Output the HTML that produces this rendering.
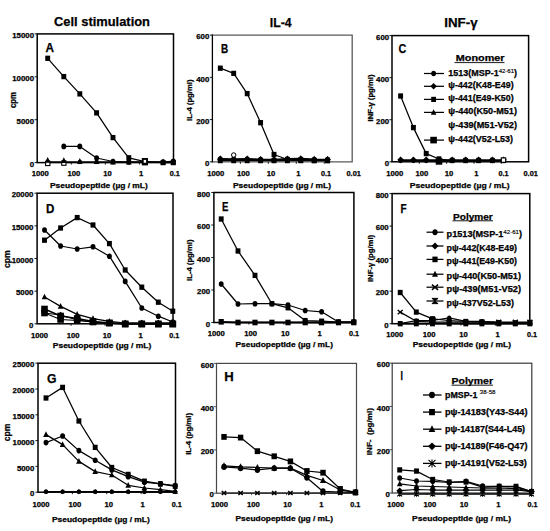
<!DOCTYPE html>
<html><head><meta charset="utf-8"><style>
html,body{margin:0;padding:0;background:#fff;}
body{width:550px;height:531px;overflow:hidden;font-family:"Liberation Sans", sans-serif;}
svg{display:block;}
text{fill:#000;stroke:#000;stroke-width:0.25px;}
</style></head><body>
<svg width="550" height="531" viewBox="0 0 550 531" font-family='"Liberation Sans", sans-serif'>
<rect width="550" height="531" fill="#fff"/>
<text x="54.00" y="26.20" font-size="12.80" font-weight="bold" textLength="96.00" lengthAdjust="spacingAndGlyphs">Cell stimulation</text>
<text x="269.80" y="26.80" font-size="12.80" font-weight="bold" textLength="21.80" lengthAdjust="spacingAndGlyphs">IL-4</text>
<text x="444.20" y="26.80" font-size="12.80" font-weight="bold" textLength="33.40" lengthAdjust="spacingAndGlyphs">INF-γ</text>
<rect x="37.20" y="33.90" width="136.30" height="128.70" fill="none" stroke="#000" stroke-width="1.5"/>
<line x1="34.60" y1="33.90" x2="37.20" y2="33.90" stroke="#000" stroke-width="0.9"/>
<text x="12.25" y="38.10" font-size="7.20" font-weight="bold" textLength="21.75" lengthAdjust="spacingAndGlyphs">15000</text>
<line x1="34.60" y1="76.80" x2="37.20" y2="76.80" stroke="#000" stroke-width="0.9"/>
<text x="12.25" y="81.00" font-size="7.20" font-weight="bold" textLength="21.75" lengthAdjust="spacingAndGlyphs">10000</text>
<line x1="34.60" y1="119.70" x2="37.20" y2="119.70" stroke="#000" stroke-width="0.9"/>
<text x="16.60" y="123.90" font-size="7.20" font-weight="bold" textLength="17.40" lengthAdjust="spacingAndGlyphs">5000</text>
<line x1="34.60" y1="162.60" x2="37.20" y2="162.60" stroke="#000" stroke-width="0.9"/>
<text x="29.65" y="166.80" font-size="7.20" font-weight="bold" textLength="4.35" lengthAdjust="spacingAndGlyphs">0</text>
<line x1="71.28" y1="162.60" x2="71.28" y2="164.60" stroke="#000" stroke-width="0.9"/>
<line x1="105.35" y1="162.60" x2="105.35" y2="164.60" stroke="#000" stroke-width="0.9"/>
<line x1="139.43" y1="162.60" x2="139.43" y2="164.60" stroke="#000" stroke-width="0.9"/>
<text x="31.80" y="176.40" font-size="7.20" font-weight="bold" textLength="17.00" lengthAdjust="spacingAndGlyphs">1000</text>
<text x="67.53" y="176.40" font-size="7.20" font-weight="bold" textLength="12.75" lengthAdjust="spacingAndGlyphs">100</text>
<text x="103.25" y="176.40" font-size="7.20" font-weight="bold" textLength="8.50" lengthAdjust="spacingAndGlyphs">10</text>
<text x="138.98" y="176.40" font-size="7.20" font-weight="bold" textLength="4.25" lengthAdjust="spacingAndGlyphs">1</text>
<text x="169.65" y="176.40" font-size="7.20" font-weight="bold" textLength="10.10" lengthAdjust="spacingAndGlyphs">0.1</text>
<text x="50.00" y="187.60" font-size="7.60" font-weight="bold" textLength="97.80" lengthAdjust="spacingAndGlyphs">Pseudopeptide (µg / mL)</text>
<text x="45.50" y="52.20" font-size="12.80" font-weight="bold" textLength="8.50" lengthAdjust="spacingAndGlyphs">A</text>
<text transform="translate(16.40,100.00) rotate(-90)" x="-8.00" y="0" font-size="8.20" font-weight="bold" textLength="16.00" lengthAdjust="spacingAndGlyphs">cpm</text>
<polyline points="47.70,162.10 63.80,162.10 79.80,162.10 96.60,162.10 113.00,162.10 128.80,162.10 144.90,162.10 163.10,162.10 173.30,162.10" fill="none" stroke="#000" stroke-width="1.9" stroke-linejoin="round"/>
<rect x="45.90" y="160.16" width="3.60" height="3.89" fill="#000"/>
<rect x="62.00" y="160.16" width="3.60" height="3.89" fill="#000"/>
<rect x="78.00" y="160.16" width="3.60" height="3.89" fill="#000"/>
<rect x="94.80" y="160.16" width="3.60" height="3.89" fill="#000"/>
<rect x="111.20" y="160.16" width="3.60" height="3.89" fill="#000"/>
<rect x="127.00" y="160.16" width="3.60" height="3.89" fill="#000"/>
<rect x="143.10" y="160.16" width="3.60" height="3.89" fill="#000"/>
<rect x="161.30" y="160.16" width="3.60" height="3.89" fill="#000"/>
<rect x="171.50" y="160.16" width="3.60" height="3.89" fill="#000"/>
<rect x="45.6" y="161.3" width="4.3" height="4.3" fill="#fff" stroke="#000" stroke-width="1.1"/>
<rect x="61.7" y="161.0" width="4.3" height="4.3" fill="#fff" stroke="#000" stroke-width="1.1"/>
<path d="M47.70,157.03 L50.58,162.78 L44.83,162.78 Z" fill="#000"/>
<path d="M63.80,157.32 L66.67,163.07 L60.92,163.07 Z" fill="#000"/>
<path d="M79.80,157.93 L82.67,163.68 L76.92,163.68 Z" fill="#000"/>
<path d="M96.60,158.22 L99.47,163.97 L93.72,163.97 Z" fill="#000"/>
<path d="M113.00,158.62 L115.88,164.38 L110.12,164.38 Z" fill="#000"/>
<path d="M128.80,158.62 L131.68,164.38 L125.93,164.38 Z" fill="#000"/>
<path d="M144.90,158.62 L147.78,164.38 L142.03,164.38 Z" fill="#000"/>
<path d="M163.10,158.62 L165.97,164.38 L160.22,164.38 Z" fill="#000"/>
<path d="M173.30,158.62 L176.18,164.38 L170.43,164.38 Z" fill="#000"/>
<polyline points="63.80,146.40 79.80,146.40 96.60,158.00 113.00,161.50 128.80,162.00 144.90,162.00 163.10,162.00 173.30,161.20" fill="none" stroke="#000" stroke-width="1.25" stroke-linejoin="round"/>
<ellipse cx="63.80" cy="146.40" rx="2.45" ry="2.82" fill="#000"/>
<ellipse cx="79.80" cy="146.40" rx="2.45" ry="2.82" fill="#000"/>
<ellipse cx="96.60" cy="158.00" rx="2.45" ry="2.82" fill="#000"/>
<ellipse cx="113.00" cy="161.50" rx="2.45" ry="2.82" fill="#000"/>
<ellipse cx="128.80" cy="162.00" rx="2.45" ry="2.82" fill="#000"/>
<ellipse cx="144.90" cy="162.00" rx="2.45" ry="2.82" fill="#000"/>
<ellipse cx="163.10" cy="162.00" rx="2.45" ry="2.82" fill="#000"/>
<ellipse cx="173.30" cy="161.20" rx="2.45" ry="2.82" fill="#000"/>
<polyline points="47.70,58.30 63.80,76.60 79.80,93.90 96.60,112.90 113.00,137.60 128.80,157.80 144.90,161.70 163.10,162.60 173.30,162.60" fill="none" stroke="#000" stroke-width="1.25" stroke-linejoin="round"/>
<rect x="45.25" y="55.65" width="4.90" height="5.29" fill="#000"/>
<rect x="61.35" y="73.95" width="4.90" height="5.29" fill="#000"/>
<rect x="77.35" y="91.25" width="4.90" height="5.29" fill="#000"/>
<rect x="94.15" y="110.25" width="4.90" height="5.29" fill="#000"/>
<rect x="110.55" y="134.95" width="4.90" height="5.29" fill="#000"/>
<rect x="126.35" y="155.15" width="4.90" height="5.29" fill="#000"/>
<rect x="142.45" y="159.05" width="4.90" height="5.29" fill="#000"/>
<rect x="160.65" y="159.95" width="4.90" height="5.29" fill="#000"/>
<rect x="170.85" y="159.95" width="4.90" height="5.29" fill="#000"/>
<rect x="141.8" y="158.0" width="6.2" height="7.4" fill="#000"/><rect x="143.7" y="159.9" width="2.4" height="2.9" fill="#fff"/>
<path d="M212.40,35.10 H352.20 V161.80 H212.40" fill="none" stroke="#5a5a5a" stroke-width="1.3"/>
<line x1="212.40" y1="34.45" x2="212.40" y2="162.45" stroke="#000" stroke-width="1.3"/>
<line x1="209.80" y1="35.10" x2="212.40" y2="35.10" stroke="#000" stroke-width="0.9"/>
<text x="196.25" y="39.30" font-size="7.20" font-weight="bold" textLength="13.05" lengthAdjust="spacingAndGlyphs">600</text>
<line x1="209.80" y1="77.33" x2="212.40" y2="77.33" stroke="#000" stroke-width="0.9"/>
<text x="196.25" y="81.53" font-size="7.20" font-weight="bold" textLength="13.05" lengthAdjust="spacingAndGlyphs">400</text>
<line x1="209.80" y1="119.57" x2="212.40" y2="119.57" stroke="#000" stroke-width="0.9"/>
<text x="196.25" y="123.77" font-size="7.20" font-weight="bold" textLength="13.05" lengthAdjust="spacingAndGlyphs">200</text>
<line x1="209.80" y1="161.80" x2="212.40" y2="161.80" stroke="#000" stroke-width="0.9"/>
<text x="204.95" y="166.00" font-size="7.20" font-weight="bold" textLength="4.35" lengthAdjust="spacingAndGlyphs">0</text>
<line x1="240.36" y1="161.80" x2="240.36" y2="163.80" stroke="#000" stroke-width="0.9"/>
<line x1="268.32" y1="161.80" x2="268.32" y2="163.80" stroke="#000" stroke-width="0.9"/>
<line x1="296.28" y1="161.80" x2="296.28" y2="163.80" stroke="#000" stroke-width="0.9"/>
<line x1="324.24" y1="161.80" x2="324.24" y2="163.80" stroke="#000" stroke-width="0.9"/>
<text x="207.20" y="176.30" font-size="7.20" font-weight="bold" textLength="17.00" lengthAdjust="spacingAndGlyphs">1000</text>
<text x="236.92" y="176.30" font-size="7.20" font-weight="bold" textLength="12.75" lengthAdjust="spacingAndGlyphs">100</text>
<text x="266.65" y="176.30" font-size="7.20" font-weight="bold" textLength="8.50" lengthAdjust="spacingAndGlyphs">10</text>
<text x="296.38" y="176.30" font-size="7.20" font-weight="bold" textLength="4.25" lengthAdjust="spacingAndGlyphs">1</text>
<text x="321.05" y="176.30" font-size="7.20" font-weight="bold" textLength="10.10" lengthAdjust="spacingAndGlyphs">0.1</text>
<text x="346.52" y="176.30" font-size="7.20" font-weight="bold" textLength="14.35" lengthAdjust="spacingAndGlyphs">0.01</text>
<text x="233.00" y="187.60" font-size="7.60" font-weight="bold" textLength="98.00" lengthAdjust="spacingAndGlyphs">Pseudopeptide (µg / mL)</text>
<text x="221.00" y="53.40" font-size="12.80" font-weight="bold" textLength="7.20" lengthAdjust="spacingAndGlyphs">B</text>
<text transform="translate(191.80,100.25) rotate(-90)" x="-20.75" y="0" font-size="6.90" font-weight="bold" textLength="41.50" lengthAdjust="spacingAndGlyphs">IL-4 (pg/ml)</text>
<polyline points="220.30,160.60 233.70,160.60 247.20,160.60 260.60,160.60 274.00,160.60 287.40,160.60 300.80,160.60 314.20,160.60 327.60,160.60" fill="none" stroke="#000" stroke-width="1.2" stroke-linejoin="round"/>
<rect x="217.85" y="157.95" width="4.90" height="5.29" fill="#000"/>
<rect x="231.25" y="157.95" width="4.90" height="5.29" fill="#000"/>
<rect x="244.75" y="157.95" width="4.90" height="5.29" fill="#000"/>
<rect x="258.15" y="157.95" width="4.90" height="5.29" fill="#000"/>
<rect x="271.55" y="157.95" width="4.90" height="5.29" fill="#000"/>
<rect x="284.95" y="157.95" width="4.90" height="5.29" fill="#000"/>
<rect x="298.35" y="157.95" width="4.90" height="5.29" fill="#000"/>
<rect x="311.75" y="157.95" width="4.90" height="5.29" fill="#000"/>
<rect x="325.15" y="157.95" width="4.90" height="5.29" fill="#000"/>
<polyline points="220.30,158.60 233.70,159.00 247.20,158.60 260.60,159.20 274.00,159.40 287.40,158.60 300.80,158.40 314.20,159.00 327.60,159.20" fill="none" stroke="#000" stroke-width="1.1" stroke-linejoin="round"/>
<path d="M220.30,155.29 L223.12,160.93 L217.48,160.93 Z" fill="#000"/>
<path d="M233.70,155.69 L236.52,161.33 L230.88,161.33 Z" fill="#000"/>
<path d="M247.20,155.29 L250.02,160.93 L244.38,160.93 Z" fill="#000"/>
<path d="M260.60,155.89 L263.42,161.53 L257.78,161.53 Z" fill="#000"/>
<path d="M274.00,156.09 L276.82,161.73 L271.18,161.73 Z" fill="#000"/>
<path d="M287.40,155.29 L290.22,160.93 L284.58,160.93 Z" fill="#000"/>
<path d="M300.80,155.09 L303.62,160.73 L297.98,160.73 Z" fill="#000"/>
<path d="M314.20,155.69 L317.02,161.33 L311.38,161.33 Z" fill="#000"/>
<path d="M327.60,155.89 L330.42,161.53 L324.78,161.53 Z" fill="#000"/>
<polyline points="220.30,159.20 233.70,159.50 247.20,159.50 260.60,159.60 274.00,159.80 287.40,159.60 300.80,159.60 314.20,159.60 327.60,159.60" fill="none" stroke="#000" stroke-width="1.2" stroke-linejoin="round"/>
<path d="M220.30,155.89 L223.61,159.20 L220.30,162.51 L216.99,159.20 Z" fill="#000"/>
<path d="M233.70,156.19 L237.01,159.50 L233.70,162.81 L230.39,159.50 Z" fill="#000"/>
<path d="M247.20,156.19 L250.51,159.50 L247.20,162.81 L243.89,159.50 Z" fill="#000"/>
<path d="M260.60,156.29 L263.91,159.60 L260.60,162.91 L257.29,159.60 Z" fill="#000"/>
<path d="M274.00,156.49 L277.31,159.80 L274.00,163.11 L270.69,159.80 Z" fill="#000"/>
<path d="M287.40,156.29 L290.71,159.60 L287.40,162.91 L284.09,159.60 Z" fill="#000"/>
<path d="M300.80,156.29 L304.11,159.60 L300.80,162.91 L297.49,159.60 Z" fill="#000"/>
<path d="M314.20,156.29 L317.51,159.60 L314.20,162.91 L310.89,159.60 Z" fill="#000"/>
<path d="M327.60,156.29 L330.91,159.60 L327.60,162.91 L324.29,159.60 Z" fill="#000"/>
<polyline points="220.30,159.00 233.70,159.00 247.20,159.00 260.60,159.60 274.00,160.00 287.40,159.00 300.80,159.00 314.20,159.50 327.60,159.50" fill="none" stroke="#000" stroke-width="1.25" stroke-linejoin="round"/>
<ellipse cx="220.30" cy="159.00" rx="2.45" ry="2.82" fill="#000"/>
<ellipse cx="233.70" cy="159.00" rx="2.45" ry="2.82" fill="#000"/>
<ellipse cx="247.20" cy="159.00" rx="2.45" ry="2.82" fill="#000"/>
<ellipse cx="260.60" cy="159.60" rx="2.45" ry="2.82" fill="#000"/>
<ellipse cx="274.00" cy="160.00" rx="2.45" ry="2.82" fill="#000"/>
<ellipse cx="287.40" cy="159.00" rx="2.45" ry="2.82" fill="#000"/>
<ellipse cx="300.80" cy="159.00" rx="2.45" ry="2.82" fill="#000"/>
<ellipse cx="314.20" cy="159.50" rx="2.45" ry="2.82" fill="#000"/>
<ellipse cx="327.60" cy="159.50" rx="2.45" ry="2.82" fill="#000"/>
<polyline points="220.30,68.20 233.70,73.40 247.20,93.60 260.60,122.70 274.00,154.50 287.40,159.50 300.80,160.00 314.20,160.50 327.60,160.50" fill="none" stroke="#000" stroke-width="1.25" stroke-linejoin="round"/>
<rect x="217.85" y="65.55" width="4.90" height="5.29" fill="#000"/>
<rect x="231.25" y="70.75" width="4.90" height="5.29" fill="#000"/>
<rect x="244.75" y="90.95" width="4.90" height="5.29" fill="#000"/>
<rect x="258.15" y="120.05" width="4.90" height="5.29" fill="#000"/>
<rect x="271.55" y="151.85" width="4.90" height="5.29" fill="#000"/>
<rect x="284.95" y="156.85" width="4.90" height="5.29" fill="#000"/>
<rect x="298.35" y="157.35" width="4.90" height="5.29" fill="#000"/>
<rect x="311.75" y="157.85" width="4.90" height="5.29" fill="#000"/>
<rect x="325.15" y="157.85" width="4.90" height="5.29" fill="#000"/>
<circle cx="233.70" cy="155.00" r="2.21" fill="#fff" stroke="#000" stroke-width="1"/>
<rect x="392.00" y="35.60" width="136.60" height="126.20" fill="none" stroke="#000" stroke-width="1.5"/>
<line x1="389.40" y1="35.60" x2="392.00" y2="35.60" stroke="#000" stroke-width="0.9"/>
<text x="376.05" y="39.80" font-size="7.20" font-weight="bold" textLength="13.05" lengthAdjust="spacingAndGlyphs">600</text>
<line x1="389.40" y1="77.67" x2="392.00" y2="77.67" stroke="#000" stroke-width="0.9"/>
<text x="376.05" y="81.87" font-size="7.20" font-weight="bold" textLength="13.05" lengthAdjust="spacingAndGlyphs">400</text>
<line x1="389.40" y1="119.73" x2="392.00" y2="119.73" stroke="#000" stroke-width="0.9"/>
<text x="376.05" y="123.93" font-size="7.20" font-weight="bold" textLength="13.05" lengthAdjust="spacingAndGlyphs">200</text>
<line x1="389.40" y1="161.80" x2="392.00" y2="161.80" stroke="#000" stroke-width="0.9"/>
<text x="384.75" y="166.00" font-size="7.20" font-weight="bold" textLength="4.35" lengthAdjust="spacingAndGlyphs">0</text>
<line x1="419.32" y1="161.80" x2="419.32" y2="163.80" stroke="#000" stroke-width="0.9"/>
<line x1="446.64" y1="161.80" x2="446.64" y2="163.80" stroke="#000" stroke-width="0.9"/>
<line x1="473.96" y1="161.80" x2="473.96" y2="163.80" stroke="#000" stroke-width="0.9"/>
<line x1="501.28" y1="161.80" x2="501.28" y2="163.80" stroke="#000" stroke-width="0.9"/>
<text x="386.20" y="176.20" font-size="7.20" font-weight="bold" textLength="17.00" lengthAdjust="spacingAndGlyphs">1000</text>
<text x="415.52" y="176.20" font-size="7.20" font-weight="bold" textLength="12.75" lengthAdjust="spacingAndGlyphs">100</text>
<text x="444.85" y="176.20" font-size="7.20" font-weight="bold" textLength="8.50" lengthAdjust="spacingAndGlyphs">10</text>
<text x="474.17" y="176.20" font-size="7.20" font-weight="bold" textLength="4.25" lengthAdjust="spacingAndGlyphs">1</text>
<text x="498.45" y="176.20" font-size="7.20" font-weight="bold" textLength="10.10" lengthAdjust="spacingAndGlyphs">0.1</text>
<text x="523.53" y="176.20" font-size="7.20" font-weight="bold" textLength="14.35" lengthAdjust="spacingAndGlyphs">0.01</text>
<text x="409.80" y="187.60" font-size="7.60" font-weight="bold" textLength="99.70" lengthAdjust="spacingAndGlyphs">Pseudopeptide (µg / mL)</text>
<text x="398.60" y="53.00" font-size="12.80" font-weight="bold" textLength="7.80" lengthAdjust="spacingAndGlyphs">C</text>
<text transform="translate(372.70,98.00) rotate(-90)" x="-23.50" y="0" font-size="7.10" font-weight="bold" textLength="47.00" lengthAdjust="spacingAndGlyphs">INF-γ (pg/ml)</text>
<polyline points="400.60,160.60 413.40,160.60 426.20,160.60 439.00,160.60 452.20,160.60 465.60,160.60 478.60,160.60 492.40,160.60 503.50,160.60" fill="none" stroke="#000" stroke-width="1.3" stroke-linejoin="round"/>
<ellipse cx="400.60" cy="160.60" rx="2.20" ry="2.53" fill="#000"/>
<ellipse cx="413.40" cy="160.60" rx="2.20" ry="2.53" fill="#000"/>
<ellipse cx="426.20" cy="160.60" rx="2.20" ry="2.53" fill="#000"/>
<ellipse cx="439.00" cy="160.60" rx="2.20" ry="2.53" fill="#000"/>
<ellipse cx="452.20" cy="160.60" rx="2.20" ry="2.53" fill="#000"/>
<ellipse cx="465.60" cy="160.60" rx="2.20" ry="2.53" fill="#000"/>
<ellipse cx="478.60" cy="160.60" rx="2.20" ry="2.53" fill="#000"/>
<ellipse cx="492.40" cy="160.60" rx="2.20" ry="2.53" fill="#000"/>
<ellipse cx="503.50" cy="160.60" rx="2.20" ry="2.53" fill="#000"/>
<polyline points="400.60,159.80 413.40,159.80 426.20,159.80 439.00,159.80 452.20,159.80 465.60,159.80 478.60,159.80 492.40,159.80 503.50,159.80" fill="none" stroke="#000" stroke-width="1.3" stroke-linejoin="round"/>
<path d="M400.60,156.49 L403.91,159.80 L400.60,163.11 L397.29,159.80 Z" fill="#000"/>
<path d="M413.40,156.49 L416.71,159.80 L413.40,163.11 L410.09,159.80 Z" fill="#000"/>
<path d="M426.20,156.49 L429.51,159.80 L426.20,163.11 L422.89,159.80 Z" fill="#000"/>
<path d="M439.00,156.49 L442.31,159.80 L439.00,163.11 L435.69,159.80 Z" fill="#000"/>
<path d="M452.20,156.49 L455.51,159.80 L452.20,163.11 L448.89,159.80 Z" fill="#000"/>
<path d="M465.60,156.49 L468.91,159.80 L465.60,163.11 L462.29,159.80 Z" fill="#000"/>
<path d="M478.60,156.49 L481.91,159.80 L478.60,163.11 L475.29,159.80 Z" fill="#000"/>
<path d="M492.40,156.49 L495.71,159.80 L492.40,163.11 L489.09,159.80 Z" fill="#000"/>
<path d="M503.50,156.49 L506.81,159.80 L503.50,163.11 L500.19,159.80 Z" fill="#000"/>
<polyline points="400.60,96.00 413.40,127.60 426.20,153.60 439.00,159.00 452.20,160.50 465.60,160.50 478.60,160.50 492.40,160.50 503.50,160.50" fill="none" stroke="#000" stroke-width="1.25" stroke-linejoin="round"/>
<rect x="398.15" y="93.35" width="4.90" height="5.29" fill="#000"/>
<rect x="410.95" y="124.95" width="4.90" height="5.29" fill="#000"/>
<rect x="423.75" y="150.95" width="4.90" height="5.29" fill="#000"/>
<rect x="436.55" y="156.35" width="4.90" height="5.29" fill="#000"/>
<rect x="449.75" y="157.85" width="4.90" height="5.29" fill="#000"/>
<rect x="463.15" y="157.85" width="4.90" height="5.29" fill="#000"/>
<rect x="476.15" y="157.85" width="4.90" height="5.29" fill="#000"/>
<rect x="489.95" y="157.85" width="4.90" height="5.29" fill="#000"/>
<rect x="501.05" y="157.85" width="4.90" height="5.29" fill="#000"/>
<rect x="435.70" y="158.10" width="6.6" height="6.6" fill="#000"/>
<rect x="501.3" y="157.9" width="4.4" height="4.4" fill="#fff" stroke="#000" stroke-width="1.1"/>
<text x="455.80" y="61.00" font-size="9.00" font-weight="bold" textLength="48.70" lengthAdjust="spacingAndGlyphs">Monomer</text>
<line x1="454.50" y1="62.60" x2="504.50" y2="62.60" stroke="#000" stroke-width="0.9"/>
<line x1="424.00" y1="73.50" x2="444.00" y2="73.50" stroke="#000" stroke-width="1.25"/>
<ellipse cx="433.60" cy="73.50" rx="2.40" ry="2.76" fill="#000"/>
<text x="448.30" y="75.50" font-size="8.40" font-weight="bold" textLength="68.70" lengthAdjust="spacingAndGlyphs">1513(MSP-1<tspan font-size="5.6" font-weight="normal" stroke-width="0.15" dy="-2.8">42-61</tspan><tspan dy="2.8">)</tspan></text>
<line x1="424.00" y1="86.30" x2="444.00" y2="86.30" stroke="#000" stroke-width="1.25"/>
<path d="M433.60,83.06 L436.84,86.30 L433.60,89.54 L430.36,86.30 Z" fill="#000"/>
<text x="448.30" y="88.30" font-size="8.40" font-weight="bold" textLength="65.30" lengthAdjust="spacingAndGlyphs">ψ-442(K48-E49)</text>
<line x1="424.00" y1="99.40" x2="444.00" y2="99.40" stroke="#000" stroke-width="1.25"/>
<rect x="431.20" y="96.81" width="4.80" height="5.18" fill="#000"/>
<text x="448.30" y="101.40" font-size="8.40" font-weight="bold" textLength="65.30" lengthAdjust="spacingAndGlyphs">ψ-441(E49-K50)</text>
<line x1="424.00" y1="112.40" x2="444.00" y2="112.40" stroke="#000" stroke-width="1.25"/>
<path d="M433.60,109.16 L436.36,114.68 L430.84,114.68 Z" fill="#000"/>
<text x="448.30" y="114.40" font-size="8.40" font-weight="bold" textLength="68.70" lengthAdjust="spacingAndGlyphs">ψ-440(K50-M51)</text>
<text x="448.30" y="128.20" font-size="8.40" font-weight="bold" textLength="68.70" lengthAdjust="spacingAndGlyphs">ψ-439(M51-V52)</text>
<line x1="424.00" y1="140.10" x2="444.00" y2="140.10" stroke="#000" stroke-width="1.25"/>
<rect x="430.30" y="136.80" width="6.6" height="6.6" fill="#000"/>
<text x="448.30" y="142.10" font-size="8.40" font-weight="bold" textLength="64.70" lengthAdjust="spacingAndGlyphs">ψ-442(V52-L53)</text>
<rect x="37.10" y="193.20" width="135.90" height="130.60" fill="none" stroke="#000" stroke-width="1.5"/>
<line x1="34.50" y1="193.20" x2="37.10" y2="193.20" stroke="#000" stroke-width="0.9"/>
<text x="11.65" y="197.40" font-size="7.20" font-weight="bold" textLength="21.75" lengthAdjust="spacingAndGlyphs">20000</text>
<line x1="34.50" y1="225.85" x2="37.10" y2="225.85" stroke="#000" stroke-width="0.9"/>
<text x="11.65" y="230.05" font-size="7.20" font-weight="bold" textLength="21.75" lengthAdjust="spacingAndGlyphs">15000</text>
<line x1="34.50" y1="258.50" x2="37.10" y2="258.50" stroke="#000" stroke-width="0.9"/>
<text x="11.65" y="262.70" font-size="7.20" font-weight="bold" textLength="21.75" lengthAdjust="spacingAndGlyphs">10000</text>
<line x1="34.50" y1="291.15" x2="37.10" y2="291.15" stroke="#000" stroke-width="0.9"/>
<text x="16.00" y="295.35" font-size="7.20" font-weight="bold" textLength="17.40" lengthAdjust="spacingAndGlyphs">5000</text>
<line x1="34.50" y1="323.80" x2="37.10" y2="323.80" stroke="#000" stroke-width="0.9"/>
<text x="29.05" y="328.00" font-size="7.20" font-weight="bold" textLength="4.35" lengthAdjust="spacingAndGlyphs">0</text>
<line x1="71.08" y1="323.80" x2="71.08" y2="325.80" stroke="#000" stroke-width="0.9"/>
<line x1="105.05" y1="323.80" x2="105.05" y2="325.80" stroke="#000" stroke-width="0.9"/>
<line x1="139.03" y1="323.80" x2="139.03" y2="325.80" stroke="#000" stroke-width="0.9"/>
<text x="31.10" y="337.70" font-size="7.20" font-weight="bold" textLength="17.00" lengthAdjust="spacingAndGlyphs">1000</text>
<text x="66.88" y="337.70" font-size="7.20" font-weight="bold" textLength="12.75" lengthAdjust="spacingAndGlyphs">100</text>
<text x="102.65" y="337.70" font-size="7.20" font-weight="bold" textLength="8.50" lengthAdjust="spacingAndGlyphs">10</text>
<text x="138.42" y="337.70" font-size="7.20" font-weight="bold" textLength="4.25" lengthAdjust="spacingAndGlyphs">1</text>
<text x="169.15" y="337.70" font-size="7.20" font-weight="bold" textLength="10.10" lengthAdjust="spacingAndGlyphs">0.1</text>
<text x="52.80" y="347.90" font-size="7.60" font-weight="bold" textLength="98.50" lengthAdjust="spacingAndGlyphs">Pseudopeptide (µg / mL)</text>
<text x="46.00" y="212.60" font-size="12.80" font-weight="bold" textLength="8.40" lengthAdjust="spacingAndGlyphs">D</text>
<text transform="translate(9.80,259.10) rotate(-90)" x="-8.90" y="0" font-size="8.60" font-weight="bold" textLength="17.80" lengthAdjust="spacingAndGlyphs">cpm</text>
<polyline points="44.50,313.00 60.60,315.00 77.20,320.00 93.00,322.00 109.40,323.00 125.20,323.00 141.80,323.00 158.30,323.00 172.80,323.00" fill="none" stroke="#000" stroke-width="1.25" stroke-linejoin="round"/>
<path d="M44.50,309.69 L47.81,313.00 L44.50,316.31 L41.19,313.00 Z" fill="#000"/>
<path d="M60.60,311.69 L63.91,315.00 L60.60,318.31 L57.29,315.00 Z" fill="#000"/>
<path d="M77.20,316.69 L80.51,320.00 L77.20,323.31 L73.89,320.00 Z" fill="#000"/>
<path d="M93.00,318.69 L96.31,322.00 L93.00,325.31 L89.69,322.00 Z" fill="#000"/>
<path d="M109.40,319.69 L112.71,323.00 L109.40,326.31 L106.09,323.00 Z" fill="#000"/>
<path d="M125.20,319.69 L128.51,323.00 L125.20,326.31 L121.89,323.00 Z" fill="#000"/>
<path d="M141.80,319.69 L145.11,323.00 L141.80,326.31 L138.49,323.00 Z" fill="#000"/>
<path d="M158.30,319.69 L161.61,323.00 L158.30,326.31 L154.99,323.00 Z" fill="#000"/>
<path d="M172.80,319.69 L176.11,323.00 L172.80,326.31 L169.49,323.00 Z" fill="#000"/>
<polyline points="44.50,297.00 60.60,306.40 77.20,314.40 93.00,318.60 109.40,321.40 125.20,323.00 141.80,323.00 158.30,323.00 172.80,323.00" fill="none" stroke="#000" stroke-width="1.25" stroke-linejoin="round"/>
<path d="M44.50,293.69 L47.32,299.33 L41.68,299.33 Z" fill="#000"/>
<path d="M60.60,303.09 L63.42,308.73 L57.78,308.73 Z" fill="#000"/>
<path d="M77.20,311.09 L80.02,316.73 L74.38,316.73 Z" fill="#000"/>
<path d="M93.00,315.29 L95.82,320.93 L90.18,320.93 Z" fill="#000"/>
<path d="M109.40,318.09 L112.22,323.73 L106.58,323.73 Z" fill="#000"/>
<path d="M125.20,319.69 L128.02,325.33 L122.38,325.33 Z" fill="#000"/>
<path d="M141.80,319.69 L144.62,325.33 L138.98,325.33 Z" fill="#000"/>
<path d="M158.30,319.69 L161.12,325.33 L155.48,325.33 Z" fill="#000"/>
<path d="M172.80,319.69 L175.62,325.33 L169.98,325.33 Z" fill="#000"/>
<polyline points="44.50,309.00 60.60,316.00 77.20,318.50 93.00,321.50 109.40,323.00 125.20,324.00 141.80,324.00 158.30,324.00 172.80,324.00" fill="none" stroke="#000" stroke-width="1.5" stroke-linejoin="round"/>
<rect x="41.20" y="305.70" width="6.6" height="6.6" fill="#000"/>
<rect x="57.30" y="312.70" width="6.6" height="6.6" fill="#000"/>
<rect x="73.90" y="315.20" width="6.6" height="6.6" fill="#000"/>
<rect x="89.70" y="318.20" width="6.6" height="6.6" fill="#000"/>
<rect x="106.10" y="319.70" width="6.6" height="6.6" fill="#000"/>
<rect x="121.90" y="320.70" width="6.6" height="6.6" fill="#000"/>
<rect x="138.50" y="320.70" width="6.6" height="6.6" fill="#000"/>
<rect x="155.00" y="320.70" width="6.6" height="6.6" fill="#000"/>
<rect x="169.50" y="320.70" width="6.6" height="6.6" fill="#000"/>
<polyline points="44.50,313.00 60.60,319.50 77.20,320.50 93.00,322.00 109.40,323.00 125.20,324.00 141.80,324.00 158.30,324.00 172.80,324.00" fill="none" stroke="#000" stroke-width="1.2" stroke-linejoin="round"/>
<rect x="41.20" y="309.70" width="6.6" height="6.6" fill="#000"/>
<rect x="57.30" y="316.20" width="6.6" height="6.6" fill="#000"/>
<rect x="73.90" y="317.20" width="6.6" height="6.6" fill="#000"/>
<rect x="89.70" y="318.70" width="6.6" height="6.6" fill="#000"/>
<rect x="106.10" y="319.70" width="6.6" height="6.6" fill="#000"/>
<rect x="121.90" y="320.70" width="6.6" height="6.6" fill="#000"/>
<rect x="138.50" y="320.70" width="6.6" height="6.6" fill="#000"/>
<rect x="155.00" y="320.70" width="6.6" height="6.6" fill="#000"/>
<rect x="169.50" y="320.70" width="6.6" height="6.6" fill="#000"/>
<polyline points="44.50,230.00 60.60,246.00 77.20,249.00 93.00,246.80 109.40,256.20 125.20,281.40 141.80,308.00 158.30,316.20 172.80,322.00" fill="none" stroke="#000" stroke-width="1.25" stroke-linejoin="round"/>
<ellipse cx="44.50" cy="230.00" rx="2.45" ry="2.82" fill="#000"/>
<ellipse cx="60.60" cy="246.00" rx="2.45" ry="2.82" fill="#000"/>
<ellipse cx="77.20" cy="249.00" rx="2.45" ry="2.82" fill="#000"/>
<ellipse cx="93.00" cy="246.80" rx="2.45" ry="2.82" fill="#000"/>
<ellipse cx="109.40" cy="256.20" rx="2.45" ry="2.82" fill="#000"/>
<ellipse cx="125.20" cy="281.40" rx="2.45" ry="2.82" fill="#000"/>
<ellipse cx="141.80" cy="308.00" rx="2.45" ry="2.82" fill="#000"/>
<ellipse cx="158.30" cy="316.20" rx="2.45" ry="2.82" fill="#000"/>
<ellipse cx="172.80" cy="322.00" rx="2.45" ry="2.82" fill="#000"/>
<polyline points="44.50,240.20 60.60,228.00 77.20,217.60 93.00,225.00 109.40,243.60 125.20,270.00 141.80,287.20 158.30,302.20 172.80,311.20" fill="none" stroke="#000" stroke-width="1.25" stroke-linejoin="round"/>
<rect x="42.05" y="237.55" width="4.90" height="5.29" fill="#000"/>
<rect x="58.15" y="225.35" width="4.90" height="5.29" fill="#000"/>
<rect x="74.75" y="214.95" width="4.90" height="5.29" fill="#000"/>
<rect x="90.55" y="222.35" width="4.90" height="5.29" fill="#000"/>
<rect x="106.95" y="240.95" width="4.90" height="5.29" fill="#000"/>
<rect x="122.75" y="267.35" width="4.90" height="5.29" fill="#000"/>
<rect x="139.35" y="284.55" width="4.90" height="5.29" fill="#000"/>
<rect x="155.85" y="299.55" width="4.90" height="5.29" fill="#000"/>
<rect x="170.35" y="308.55" width="4.90" height="5.29" fill="#000"/>
<rect x="213.90" y="192.50" width="140.00" height="130.00" fill="none" stroke="#000" stroke-width="1.5"/>
<line x1="211.30" y1="192.50" x2="213.90" y2="192.50" stroke="#000" stroke-width="0.9"/>
<text x="197.05" y="196.70" font-size="7.20" font-weight="bold" textLength="13.05" lengthAdjust="spacingAndGlyphs">800</text>
<line x1="211.30" y1="225.00" x2="213.90" y2="225.00" stroke="#000" stroke-width="0.9"/>
<text x="197.05" y="229.20" font-size="7.20" font-weight="bold" textLength="13.05" lengthAdjust="spacingAndGlyphs">600</text>
<line x1="211.30" y1="257.50" x2="213.90" y2="257.50" stroke="#000" stroke-width="0.9"/>
<text x="197.05" y="261.70" font-size="7.20" font-weight="bold" textLength="13.05" lengthAdjust="spacingAndGlyphs">400</text>
<line x1="211.30" y1="290.00" x2="213.90" y2="290.00" stroke="#000" stroke-width="0.9"/>
<text x="197.05" y="294.20" font-size="7.20" font-weight="bold" textLength="13.05" lengthAdjust="spacingAndGlyphs">200</text>
<line x1="211.30" y1="322.50" x2="213.90" y2="322.50" stroke="#000" stroke-width="0.9"/>
<text x="205.75" y="326.70" font-size="7.20" font-weight="bold" textLength="4.35" lengthAdjust="spacingAndGlyphs">0</text>
<line x1="248.90" y1="322.50" x2="248.90" y2="324.50" stroke="#000" stroke-width="0.9"/>
<line x1="283.90" y1="322.50" x2="283.90" y2="324.50" stroke="#000" stroke-width="0.9"/>
<line x1="318.90" y1="322.50" x2="318.90" y2="324.50" stroke="#000" stroke-width="0.9"/>
<text x="207.80" y="336.40" font-size="7.20" font-weight="bold" textLength="17.00" lengthAdjust="spacingAndGlyphs">1000</text>
<text x="244.38" y="336.40" font-size="7.20" font-weight="bold" textLength="12.75" lengthAdjust="spacingAndGlyphs">100</text>
<text x="280.95" y="336.40" font-size="7.20" font-weight="bold" textLength="8.50" lengthAdjust="spacingAndGlyphs">10</text>
<text x="317.53" y="336.40" font-size="7.20" font-weight="bold" textLength="4.25" lengthAdjust="spacingAndGlyphs">1</text>
<text x="349.05" y="336.40" font-size="7.20" font-weight="bold" textLength="10.10" lengthAdjust="spacingAndGlyphs">0.1</text>
<text x="235.50" y="347.40" font-size="7.60" font-weight="bold" textLength="97.50" lengthAdjust="spacingAndGlyphs">Pseudopeptide (µg / mL)</text>
<text x="222.00" y="211.40" font-size="12.80" font-weight="bold" textLength="6.40" lengthAdjust="spacingAndGlyphs">E</text>
<text transform="translate(191.80,260.25) rotate(-90)" x="-20.75" y="0" font-size="6.90" font-weight="bold" textLength="41.50" lengthAdjust="spacingAndGlyphs">IL-4 (pg/ml)</text>
<polyline points="221.20,321.80 238.00,322.50 255.00,322.50 271.90,322.50 288.00,322.50 305.20,322.50 321.60,322.50 338.50,322.50 353.80,322.50" fill="none" stroke="#000" stroke-width="1.8" stroke-linejoin="round"/>
<rect x="218.60" y="318.99" width="5.20" height="5.62" fill="#000"/>
<rect x="235.40" y="319.69" width="5.20" height="5.62" fill="#000"/>
<rect x="252.40" y="319.69" width="5.20" height="5.62" fill="#000"/>
<rect x="269.30" y="319.69" width="5.20" height="5.62" fill="#000"/>
<rect x="285.40" y="319.69" width="5.20" height="5.62" fill="#000"/>
<rect x="302.60" y="319.69" width="5.20" height="5.62" fill="#000"/>
<rect x="319.00" y="319.69" width="5.20" height="5.62" fill="#000"/>
<rect x="335.90" y="319.69" width="5.20" height="5.62" fill="#000"/>
<rect x="351.20" y="319.69" width="5.20" height="5.62" fill="#000"/>
<polyline points="221.20,284.00 238.00,304.00 255.00,303.70 271.90,303.70 288.00,305.00 305.20,310.50 321.60,311.80 338.50,322.00 353.80,322.00" fill="none" stroke="#000" stroke-width="1.25" stroke-linejoin="round"/>
<ellipse cx="221.20" cy="284.00" rx="2.45" ry="2.82" fill="#000"/>
<ellipse cx="238.00" cy="304.00" rx="2.45" ry="2.82" fill="#000"/>
<ellipse cx="255.00" cy="303.70" rx="2.45" ry="2.82" fill="#000"/>
<ellipse cx="271.90" cy="303.70" rx="2.45" ry="2.82" fill="#000"/>
<ellipse cx="288.00" cy="305.00" rx="2.45" ry="2.82" fill="#000"/>
<ellipse cx="305.20" cy="310.50" rx="2.45" ry="2.82" fill="#000"/>
<ellipse cx="321.60" cy="311.80" rx="2.45" ry="2.82" fill="#000"/>
<ellipse cx="338.50" cy="322.00" rx="2.45" ry="2.82" fill="#000"/>
<ellipse cx="353.80" cy="322.00" rx="2.45" ry="2.82" fill="#000"/>
<polyline points="221.20,219.00 238.00,251.00 255.00,275.40 271.90,303.70 288.00,307.80 305.20,320.60 321.60,321.20 338.50,322.00 353.80,322.00" fill="none" stroke="#000" stroke-width="1.25" stroke-linejoin="round"/>
<rect x="218.75" y="216.35" width="4.90" height="5.29" fill="#000"/>
<rect x="235.55" y="248.35" width="4.90" height="5.29" fill="#000"/>
<rect x="252.55" y="272.75" width="4.90" height="5.29" fill="#000"/>
<rect x="269.45" y="301.05" width="4.90" height="5.29" fill="#000"/>
<rect x="285.55" y="305.15" width="4.90" height="5.29" fill="#000"/>
<rect x="302.75" y="317.95" width="4.90" height="5.29" fill="#000"/>
<rect x="319.15" y="318.55" width="4.90" height="5.29" fill="#000"/>
<rect x="336.05" y="319.35" width="4.90" height="5.29" fill="#000"/>
<rect x="351.35" y="319.35" width="4.90" height="5.29" fill="#000"/>
<rect x="392.10" y="193.60" width="137.70" height="130.10" fill="none" stroke="#000" stroke-width="1.5"/>
<line x1="389.50" y1="193.60" x2="392.10" y2="193.60" stroke="#000" stroke-width="0.9"/>
<text x="375.65" y="197.80" font-size="7.20" font-weight="bold" textLength="13.05" lengthAdjust="spacingAndGlyphs">800</text>
<line x1="389.50" y1="226.12" x2="392.10" y2="226.12" stroke="#000" stroke-width="0.9"/>
<text x="375.65" y="230.32" font-size="7.20" font-weight="bold" textLength="13.05" lengthAdjust="spacingAndGlyphs">600</text>
<line x1="389.50" y1="258.65" x2="392.10" y2="258.65" stroke="#000" stroke-width="0.9"/>
<text x="375.65" y="262.85" font-size="7.20" font-weight="bold" textLength="13.05" lengthAdjust="spacingAndGlyphs">400</text>
<line x1="389.50" y1="291.17" x2="392.10" y2="291.17" stroke="#000" stroke-width="0.9"/>
<text x="375.65" y="295.37" font-size="7.20" font-weight="bold" textLength="13.05" lengthAdjust="spacingAndGlyphs">200</text>
<line x1="389.50" y1="323.70" x2="392.10" y2="323.70" stroke="#000" stroke-width="0.9"/>
<text x="384.35" y="327.90" font-size="7.20" font-weight="bold" textLength="4.35" lengthAdjust="spacingAndGlyphs">0</text>
<line x1="426.52" y1="323.70" x2="426.52" y2="325.70" stroke="#000" stroke-width="0.9"/>
<line x1="460.95" y1="323.70" x2="460.95" y2="325.70" stroke="#000" stroke-width="0.9"/>
<line x1="495.38" y1="323.70" x2="495.38" y2="325.70" stroke="#000" stroke-width="0.9"/>
<text x="386.20" y="337.40" font-size="7.20" font-weight="bold" textLength="17.00" lengthAdjust="spacingAndGlyphs">1000</text>
<text x="422.68" y="337.40" font-size="7.20" font-weight="bold" textLength="12.75" lengthAdjust="spacingAndGlyphs">100</text>
<text x="459.15" y="337.40" font-size="7.20" font-weight="bold" textLength="8.50" lengthAdjust="spacingAndGlyphs">10</text>
<text x="495.62" y="337.40" font-size="7.20" font-weight="bold" textLength="4.25" lengthAdjust="spacingAndGlyphs">1</text>
<text x="527.05" y="337.40" font-size="7.20" font-weight="bold" textLength="10.10" lengthAdjust="spacingAndGlyphs">0.1</text>
<text x="412.70" y="347.20" font-size="7.60" font-weight="bold" textLength="98.30" lengthAdjust="spacingAndGlyphs">Pseudopeptide (µg / mL)</text>
<text x="400.60" y="212.60" font-size="12.60" font-weight="bold" textLength="6.10" lengthAdjust="spacingAndGlyphs">F</text>
<text transform="translate(372.60,258.45) rotate(-90)" x="-23.65" y="0" font-size="7.30" font-weight="bold" textLength="47.30" lengthAdjust="spacingAndGlyphs">INF-γ (pg/ml)</text>
<polyline points="400.20,323.70 416.30,323.70 432.50,323.70 449.20,323.70 465.80,323.70 481.90,323.70 498.80,323.70 515.30,323.70 529.90,323.70" fill="none" stroke="#000" stroke-width="1.8" stroke-linejoin="round"/>
<rect x="397.75" y="321.05" width="4.90" height="5.29" fill="#000"/>
<rect x="413.85" y="321.05" width="4.90" height="5.29" fill="#000"/>
<rect x="430.05" y="321.05" width="4.90" height="5.29" fill="#000"/>
<rect x="446.75" y="321.05" width="4.90" height="5.29" fill="#000"/>
<rect x="463.35" y="321.05" width="4.90" height="5.29" fill="#000"/>
<rect x="479.45" y="321.05" width="4.90" height="5.29" fill="#000"/>
<rect x="496.35" y="321.05" width="4.90" height="5.29" fill="#000"/>
<rect x="512.85" y="321.05" width="4.90" height="5.29" fill="#000"/>
<rect x="527.45" y="321.05" width="4.90" height="5.29" fill="#000"/>
<polyline points="400.20,323.50 416.30,320.60 432.50,320.50 449.20,317.80 465.80,321.30 481.90,321.30 498.80,322.40 515.30,322.80 529.90,322.80" fill="none" stroke="#000" stroke-width="1.25" stroke-linejoin="round"/>
<ellipse cx="400.20" cy="323.50" rx="2.10" ry="2.42" fill="#000"/>
<ellipse cx="416.30" cy="320.60" rx="2.10" ry="2.42" fill="#000"/>
<ellipse cx="432.50" cy="320.50" rx="2.10" ry="2.42" fill="#000"/>
<ellipse cx="449.20" cy="317.80" rx="2.10" ry="2.42" fill="#000"/>
<ellipse cx="465.80" cy="321.30" rx="2.10" ry="2.42" fill="#000"/>
<ellipse cx="481.90" cy="321.30" rx="2.10" ry="2.42" fill="#000"/>
<ellipse cx="498.80" cy="322.40" rx="2.10" ry="2.42" fill="#000"/>
<ellipse cx="515.30" cy="322.80" rx="2.10" ry="2.42" fill="#000"/>
<ellipse cx="529.90" cy="322.80" rx="2.10" ry="2.42" fill="#000"/>
<polyline points="400.20,312.10 416.30,321.30 432.50,322.00 449.20,322.00 465.80,322.00 481.90,322.00 498.80,322.00 515.30,322.00 529.90,322.00" fill="none" stroke="#000" stroke-width="1.25" stroke-linejoin="round"/>
<path d="M397.70,309.98 L402.70,314.23 M402.70,309.98 L397.70,314.23" stroke="#000" stroke-width="1.5"/>
<path d="M413.80,319.18 L418.80,323.43 M418.80,319.18 L413.80,323.43" stroke="#000" stroke-width="1.5"/>
<path d="M430.00,319.88 L435.00,324.12 M435.00,319.88 L430.00,324.12" stroke="#000" stroke-width="1.5"/>
<path d="M446.70,319.88 L451.70,324.12 M451.70,319.88 L446.70,324.12" stroke="#000" stroke-width="1.5"/>
<path d="M463.30,319.88 L468.30,324.12 M468.30,319.88 L463.30,324.12" stroke="#000" stroke-width="1.5"/>
<path d="M479.40,319.88 L484.40,324.12 M484.40,319.88 L479.40,324.12" stroke="#000" stroke-width="1.5"/>
<path d="M496.30,319.88 L501.30,324.12 M501.30,319.88 L496.30,324.12" stroke="#000" stroke-width="1.5"/>
<path d="M512.80,319.88 L517.80,324.12 M517.80,319.88 L512.80,324.12" stroke="#000" stroke-width="1.5"/>
<path d="M527.40,319.88 L532.40,324.12 M532.40,319.88 L527.40,324.12" stroke="#000" stroke-width="1.5"/>
<polyline points="400.20,292.50 416.30,312.10 432.50,318.80 449.20,320.50 465.80,321.50 481.90,322.00 498.80,322.60 515.30,323.00 529.90,323.00" fill="none" stroke="#000" stroke-width="1.25" stroke-linejoin="round"/>
<rect x="397.75" y="289.85" width="4.90" height="5.29" fill="#000"/>
<rect x="413.85" y="309.45" width="4.90" height="5.29" fill="#000"/>
<rect x="430.05" y="316.15" width="4.90" height="5.29" fill="#000"/>
<rect x="446.75" y="317.85" width="4.90" height="5.29" fill="#000"/>
<rect x="463.35" y="318.85" width="4.90" height="5.29" fill="#000"/>
<rect x="479.45" y="319.35" width="4.90" height="5.29" fill="#000"/>
<rect x="496.35" y="319.95" width="4.90" height="5.29" fill="#000"/>
<rect x="512.85" y="320.35" width="4.90" height="5.29" fill="#000"/>
<rect x="527.45" y="320.35" width="4.90" height="5.29" fill="#000"/>
<rect x="429.00" y="316.90" width="6.6" height="6.6" fill="#000"/>
<text x="453.00" y="219.50" font-size="9.00" font-weight="bold" textLength="39.80" lengthAdjust="spacingAndGlyphs">Polymer</text>
<line x1="452.50" y1="220.80" x2="493.00" y2="220.80" stroke="#000" stroke-width="0.9"/>
<line x1="426.50" y1="232.20" x2="443.50" y2="232.20" stroke="#000" stroke-width="1.25"/>
<ellipse cx="435.00" cy="232.20" rx="2.60" ry="2.99" fill="#000"/>
<text x="446.60" y="236.90" font-size="8.40" font-weight="bold" textLength="75.40" lengthAdjust="spacingAndGlyphs">p1513(MSP-1<tspan font-size="5.6" font-weight="normal" stroke-width="0.15" dy="-2.8">42-61</tspan><tspan dy="2.8">)</tspan></text>
<line x1="426.50" y1="246.00" x2="443.50" y2="246.00" stroke="#000" stroke-width="1.25"/>
<path d="M435.00,242.49 L438.51,246.00 L435.00,249.51 L431.49,246.00 Z" fill="#000"/>
<text x="446.60" y="250.70" font-size="8.40" font-weight="bold" textLength="70.40" lengthAdjust="spacingAndGlyphs">pψ-442(K48-E49)</text>
<line x1="426.50" y1="259.40" x2="443.50" y2="259.40" stroke="#000" stroke-width="1.25"/>
<rect x="432.40" y="256.59" width="5.20" height="5.62" fill="#000"/>
<text x="446.60" y="264.10" font-size="8.40" font-weight="bold" textLength="70.40" lengthAdjust="spacingAndGlyphs">pψ-441(E49-K50)</text>
<line x1="426.50" y1="274.20" x2="443.50" y2="274.20" stroke="#000" stroke-width="1.25"/>
<path d="M435.00,270.69 L437.99,276.67 L432.01,276.67 Z" fill="#000"/>
<text x="446.60" y="278.90" font-size="8.40" font-weight="bold" textLength="74.40" lengthAdjust="spacingAndGlyphs">pψ-440(K50-M51)</text>
<line x1="426.50" y1="287.20" x2="443.50" y2="287.20" stroke="#000" stroke-width="1.25"/>
<path d="M431.90,284.56 L438.10,289.83 M438.10,284.56 L431.90,289.83" stroke="#000" stroke-width="1.5"/>
<text x="446.60" y="291.90" font-size="8.40" font-weight="bold" textLength="74.40" lengthAdjust="spacingAndGlyphs">pψ-439(M51-V52)</text>
<line x1="426.50" y1="301.00" x2="443.50" y2="301.00" stroke="#000" stroke-width="1.25"/>
<path d="M431.90,298.37 L438.10,298.37 L431.90,303.63 L438.10,303.63 Z" fill="#000" stroke="#000" stroke-width="0.9" stroke-linejoin="round"/>
<text x="446.60" y="305.70" font-size="8.40" font-weight="bold" textLength="67.40" lengthAdjust="spacingAndGlyphs">pψ-437V52-L53)</text>
<rect x="38.00" y="363.20" width="137.50" height="129.00" fill="none" stroke="#000" stroke-width="1.5"/>
<line x1="35.40" y1="363.20" x2="38.00" y2="363.20" stroke="#000" stroke-width="0.9"/>
<text x="12.55" y="367.40" font-size="7.20" font-weight="bold" textLength="21.75" lengthAdjust="spacingAndGlyphs">25000</text>
<line x1="35.40" y1="389.00" x2="38.00" y2="389.00" stroke="#000" stroke-width="0.9"/>
<text x="12.55" y="393.20" font-size="7.20" font-weight="bold" textLength="21.75" lengthAdjust="spacingAndGlyphs">20000</text>
<line x1="35.40" y1="414.80" x2="38.00" y2="414.80" stroke="#000" stroke-width="0.9"/>
<text x="12.55" y="419.00" font-size="7.20" font-weight="bold" textLength="21.75" lengthAdjust="spacingAndGlyphs">15000</text>
<line x1="35.40" y1="440.60" x2="38.00" y2="440.60" stroke="#000" stroke-width="0.9"/>
<text x="12.55" y="444.80" font-size="7.20" font-weight="bold" textLength="21.75" lengthAdjust="spacingAndGlyphs">10000</text>
<line x1="35.40" y1="466.40" x2="38.00" y2="466.40" stroke="#000" stroke-width="0.9"/>
<text x="16.90" y="470.60" font-size="7.20" font-weight="bold" textLength="17.40" lengthAdjust="spacingAndGlyphs">5000</text>
<line x1="35.40" y1="492.20" x2="38.00" y2="492.20" stroke="#000" stroke-width="0.9"/>
<text x="29.95" y="496.40" font-size="7.20" font-weight="bold" textLength="4.35" lengthAdjust="spacingAndGlyphs">0</text>
<line x1="72.38" y1="492.20" x2="72.38" y2="494.20" stroke="#000" stroke-width="0.9"/>
<line x1="106.75" y1="492.20" x2="106.75" y2="494.20" stroke="#000" stroke-width="0.9"/>
<line x1="141.12" y1="492.20" x2="141.12" y2="494.20" stroke="#000" stroke-width="0.9"/>
<text x="32.40" y="507.20" font-size="7.20" font-weight="bold" textLength="17.00" lengthAdjust="spacingAndGlyphs">1000</text>
<text x="68.47" y="507.20" font-size="7.20" font-weight="bold" textLength="12.75" lengthAdjust="spacingAndGlyphs">100</text>
<text x="104.55" y="507.20" font-size="7.20" font-weight="bold" textLength="8.50" lengthAdjust="spacingAndGlyphs">10</text>
<text x="140.62" y="507.20" font-size="7.20" font-weight="bold" textLength="4.25" lengthAdjust="spacingAndGlyphs">1</text>
<text x="171.65" y="507.20" font-size="7.20" font-weight="bold" textLength="10.10" lengthAdjust="spacingAndGlyphs">0.1</text>
<text x="52.00" y="521.60" font-size="7.60" font-weight="bold" textLength="97.80" lengthAdjust="spacingAndGlyphs">Pseudopeptide (µg / mL)</text>
<text x="47.00" y="383.00" font-size="13.60" font-weight="bold" textLength="9.50" lengthAdjust="spacingAndGlyphs">G</text>
<text transform="translate(9.70,432.45) rotate(-90)" x="-8.75" y="0" font-size="8.60" font-weight="bold" textLength="17.50" lengthAdjust="spacingAndGlyphs">cpm</text>
<polyline points="46.00,491.60 62.60,491.60 78.90,491.60 95.20,491.60 111.80,491.60 128.20,491.60 144.40,491.60 160.40,491.60 175.20,491.60" fill="none" stroke="#000" stroke-width="1.4" stroke-linejoin="round"/>
<path d="M46.00,488.90 L48.70,491.60 L46.00,494.30 L43.30,491.60 Z" fill="#000"/>
<path d="M62.60,488.90 L65.30,491.60 L62.60,494.30 L59.90,491.60 Z" fill="#000"/>
<path d="M78.90,488.90 L81.60,491.60 L78.90,494.30 L76.20,491.60 Z" fill="#000"/>
<path d="M95.20,488.90 L97.90,491.60 L95.20,494.30 L92.50,491.60 Z" fill="#000"/>
<path d="M111.80,488.90 L114.50,491.60 L111.80,494.30 L109.10,491.60 Z" fill="#000"/>
<path d="M128.20,488.90 L130.90,491.60 L128.20,494.30 L125.50,491.60 Z" fill="#000"/>
<path d="M144.40,488.90 L147.10,491.60 L144.40,494.30 L141.70,491.60 Z" fill="#000"/>
<path d="M160.40,488.90 L163.10,491.60 L160.40,494.30 L157.70,491.60 Z" fill="#000"/>
<path d="M175.20,488.90 L177.90,491.60 L175.20,494.30 L172.50,491.60 Z" fill="#000"/>
<rect x="44.20" y="489.86" width="3.60" height="3.89" fill="#000"/>
<rect x="60.80" y="489.86" width="3.60" height="3.89" fill="#000"/>
<rect x="77.10" y="489.86" width="3.60" height="3.89" fill="#000"/>
<rect x="93.40" y="489.86" width="3.60" height="3.89" fill="#000"/>
<rect x="110.00" y="489.86" width="3.60" height="3.89" fill="#000"/>
<rect x="126.40" y="489.86" width="3.60" height="3.89" fill="#000"/>
<rect x="142.60" y="489.86" width="3.60" height="3.89" fill="#000"/>
<rect x="158.60" y="489.86" width="3.60" height="3.89" fill="#000"/>
<rect x="173.40" y="489.86" width="3.60" height="3.89" fill="#000"/>
<polyline points="46.00,434.60 62.60,444.60 78.90,461.40 95.20,471.60 111.80,475.00 128.20,485.30 144.40,488.00 160.40,489.70 175.20,491.40" fill="none" stroke="#000" stroke-width="1.25" stroke-linejoin="round"/>
<path d="M46.00,431.29 L48.82,436.93 L43.18,436.93 Z" fill="#000"/>
<path d="M62.60,441.29 L65.42,446.93 L59.78,446.93 Z" fill="#000"/>
<path d="M78.90,458.09 L81.72,463.73 L76.08,463.73 Z" fill="#000"/>
<path d="M95.20,468.29 L98.02,473.93 L92.38,473.93 Z" fill="#000"/>
<path d="M111.80,471.69 L114.62,477.33 L108.98,477.33 Z" fill="#000"/>
<path d="M128.20,481.99 L131.02,487.63 L125.38,487.63 Z" fill="#000"/>
<path d="M144.40,484.69 L147.22,490.33 L141.58,490.33 Z" fill="#000"/>
<path d="M160.40,486.39 L163.22,492.03 L157.58,492.03 Z" fill="#000"/>
<path d="M175.20,488.09 L178.02,493.73 L172.38,493.73 Z" fill="#000"/>
<polyline points="46.00,442.60 62.60,436.00 78.90,450.60 95.20,460.20 111.80,469.90 128.20,476.70 144.40,482.20 160.40,483.90 175.20,485.60" fill="none" stroke="#000" stroke-width="1.25" stroke-linejoin="round"/>
<ellipse cx="46.00" cy="442.60" rx="2.45" ry="2.82" fill="#000"/>
<ellipse cx="62.60" cy="436.00" rx="2.45" ry="2.82" fill="#000"/>
<ellipse cx="78.90" cy="450.60" rx="2.45" ry="2.82" fill="#000"/>
<ellipse cx="95.20" cy="460.20" rx="2.45" ry="2.82" fill="#000"/>
<ellipse cx="111.80" cy="469.90" rx="2.45" ry="2.82" fill="#000"/>
<ellipse cx="128.20" cy="476.70" rx="2.45" ry="2.82" fill="#000"/>
<ellipse cx="144.40" cy="482.20" rx="2.45" ry="2.82" fill="#000"/>
<ellipse cx="160.40" cy="483.90" rx="2.45" ry="2.82" fill="#000"/>
<ellipse cx="175.20" cy="485.60" rx="2.45" ry="2.82" fill="#000"/>
<polyline points="46.00,398.00 62.60,387.40 78.90,421.00 95.20,447.40 111.80,467.50 128.20,474.40 144.40,481.20 160.40,483.90 175.20,486.30" fill="none" stroke="#000" stroke-width="1.25" stroke-linejoin="round"/>
<rect x="43.55" y="395.35" width="4.90" height="5.29" fill="#000"/>
<rect x="60.15" y="384.75" width="4.90" height="5.29" fill="#000"/>
<rect x="76.45" y="418.35" width="4.90" height="5.29" fill="#000"/>
<rect x="92.75" y="444.75" width="4.90" height="5.29" fill="#000"/>
<rect x="109.35" y="464.85" width="4.90" height="5.29" fill="#000"/>
<rect x="125.75" y="471.75" width="4.90" height="5.29" fill="#000"/>
<rect x="141.95" y="478.55" width="4.90" height="5.29" fill="#000"/>
<rect x="157.95" y="481.25" width="4.90" height="5.29" fill="#000"/>
<rect x="172.75" y="483.65" width="4.90" height="5.29" fill="#000"/>
<rect x="216.50" y="363.40" width="140.00" height="129.80" fill="none" stroke="#484848" stroke-width="1.2"/>
<line x1="213.90" y1="363.40" x2="216.50" y2="363.40" stroke="#484848" stroke-width="0.9"/>
<text x="200.75" y="367.60" font-size="7.20" font-weight="bold" textLength="13.05" lengthAdjust="spacingAndGlyphs">600</text>
<line x1="213.90" y1="406.67" x2="216.50" y2="406.67" stroke="#484848" stroke-width="0.9"/>
<text x="200.75" y="410.87" font-size="7.20" font-weight="bold" textLength="13.05" lengthAdjust="spacingAndGlyphs">400</text>
<line x1="213.90" y1="449.93" x2="216.50" y2="449.93" stroke="#484848" stroke-width="0.9"/>
<text x="200.75" y="454.13" font-size="7.20" font-weight="bold" textLength="13.05" lengthAdjust="spacingAndGlyphs">200</text>
<line x1="213.90" y1="493.20" x2="216.50" y2="493.20" stroke="#484848" stroke-width="0.9"/>
<text x="209.45" y="497.40" font-size="7.20" font-weight="bold" textLength="4.35" lengthAdjust="spacingAndGlyphs">0</text>
<line x1="251.50" y1="493.20" x2="251.50" y2="495.20" stroke="#484848" stroke-width="0.9"/>
<line x1="286.50" y1="493.20" x2="286.50" y2="495.20" stroke="#484848" stroke-width="0.9"/>
<line x1="321.50" y1="493.20" x2="321.50" y2="495.20" stroke="#484848" stroke-width="0.9"/>
<text x="211.10" y="507.20" font-size="7.20" font-weight="bold" textLength="17.00" lengthAdjust="spacingAndGlyphs">1000</text>
<text x="247.12" y="507.20" font-size="7.20" font-weight="bold" textLength="12.75" lengthAdjust="spacingAndGlyphs">100</text>
<text x="283.15" y="507.20" font-size="7.20" font-weight="bold" textLength="8.50" lengthAdjust="spacingAndGlyphs">10</text>
<text x="319.17" y="507.20" font-size="7.20" font-weight="bold" textLength="4.25" lengthAdjust="spacingAndGlyphs">1</text>
<text x="350.15" y="507.20" font-size="7.20" font-weight="bold" textLength="10.10" lengthAdjust="spacingAndGlyphs">0.1</text>
<text x="235.50" y="521.40" font-size="7.60" font-weight="bold" textLength="97.50" lengthAdjust="spacingAndGlyphs">Pseudopeptide (µg / mL)</text>
<text x="224.30" y="381.30" font-size="12.80" font-weight="bold" textLength="9.50" lengthAdjust="spacingAndGlyphs">H</text>
<text transform="translate(190.60,433.90) rotate(-90)" x="-20.90" y="0" font-size="7.00" font-weight="bold" textLength="41.80" lengthAdjust="spacingAndGlyphs">IL-4 (pg/ml)</text>
<polyline points="224.00,493.00 240.60,493.00 257.40,493.00 274.20,493.00 290.40,493.00 306.90,493.00 323.00,493.00 340.20,493.00 355.50,493.00" fill="none" stroke="#000" stroke-width="1.2" stroke-linejoin="round"/>
<path d="M221.80,491.13 L226.20,494.87 M226.20,491.13 L221.80,494.87" stroke="#000" stroke-width="1.5"/>
<path d="M238.40,491.13 L242.80,494.87 M242.80,491.13 L238.40,494.87" stroke="#000" stroke-width="1.5"/>
<path d="M255.20,491.13 L259.60,494.87 M259.60,491.13 L255.20,494.87" stroke="#000" stroke-width="1.5"/>
<path d="M272.00,491.13 L276.40,494.87 M276.40,491.13 L272.00,494.87" stroke="#000" stroke-width="1.5"/>
<path d="M288.20,491.13 L292.60,494.87 M292.60,491.13 L288.20,494.87" stroke="#000" stroke-width="1.5"/>
<path d="M304.70,491.13 L309.10,494.87 M309.10,491.13 L304.70,494.87" stroke="#000" stroke-width="1.5"/>
<path d="M320.80,491.13 L325.20,494.87 M325.20,491.13 L320.80,494.87" stroke="#000" stroke-width="1.5"/>
<path d="M338.00,491.13 L342.40,494.87 M342.40,491.13 L338.00,494.87" stroke="#000" stroke-width="1.5"/>
<path d="M353.30,491.13 L357.70,494.87 M357.70,491.13 L353.30,494.87" stroke="#000" stroke-width="1.5"/>
<polyline points="224.00,465.80 240.60,466.90 257.40,467.50 274.20,468.00 290.40,468.00 306.90,475.40 323.00,480.50 340.20,490.00 355.50,492.40" fill="none" stroke="#000" stroke-width="1.25" stroke-linejoin="round"/>
<path d="M224.00,462.22 L227.05,468.32 L220.95,468.32 Z" fill="#000"/>
<path d="M240.60,463.32 L243.65,469.42 L237.55,469.42 Z" fill="#000"/>
<path d="M257.40,463.92 L260.45,470.02 L254.35,470.02 Z" fill="#000"/>
<path d="M274.20,464.42 L277.25,470.52 L271.15,470.52 Z" fill="#000"/>
<path d="M290.40,464.42 L293.45,470.52 L287.35,470.52 Z" fill="#000"/>
<path d="M306.90,471.82 L309.95,477.92 L303.85,477.92 Z" fill="#000"/>
<path d="M323.00,476.92 L326.05,483.02 L319.95,483.02 Z" fill="#000"/>
<path d="M340.20,486.42 L343.25,492.52 L337.15,492.52 Z" fill="#000"/>
<path d="M355.50,488.82 L358.55,494.92 L352.45,494.92 Z" fill="#000"/>
<polyline points="224.00,466.90 240.60,468.20 257.40,469.90 274.20,468.20 290.40,468.20 306.90,477.80 323.00,491.40 340.20,492.00 355.50,492.40" fill="none" stroke="#000" stroke-width="1.25" stroke-linejoin="round"/>
<ellipse cx="224.00" cy="466.90" rx="2.65" ry="3.05" fill="#000"/>
<ellipse cx="240.60" cy="468.20" rx="2.65" ry="3.05" fill="#000"/>
<ellipse cx="257.40" cy="469.90" rx="2.65" ry="3.05" fill="#000"/>
<ellipse cx="274.20" cy="468.20" rx="2.65" ry="3.05" fill="#000"/>
<ellipse cx="290.40" cy="468.20" rx="2.65" ry="3.05" fill="#000"/>
<ellipse cx="306.90" cy="477.80" rx="2.65" ry="3.05" fill="#000"/>
<ellipse cx="323.00" cy="491.40" rx="2.65" ry="3.05" fill="#000"/>
<ellipse cx="340.20" cy="492.00" rx="2.65" ry="3.05" fill="#000"/>
<ellipse cx="355.50" cy="492.40" rx="2.65" ry="3.05" fill="#000"/>
<polyline points="224.00,436.90 240.60,437.60 257.40,451.20 274.20,456.30 290.40,461.40 306.90,471.00 323.00,472.70 340.20,489.00 355.50,492.40" fill="none" stroke="#000" stroke-width="1.25" stroke-linejoin="round"/>
<rect x="221.30" y="433.98" width="5.40" height="5.83" fill="#000"/>
<rect x="237.90" y="434.68" width="5.40" height="5.83" fill="#000"/>
<rect x="254.70" y="448.28" width="5.40" height="5.83" fill="#000"/>
<rect x="271.50" y="453.38" width="5.40" height="5.83" fill="#000"/>
<rect x="287.70" y="458.48" width="5.40" height="5.83" fill="#000"/>
<rect x="304.20" y="468.08" width="5.40" height="5.83" fill="#000"/>
<rect x="320.30" y="469.78" width="5.40" height="5.83" fill="#000"/>
<rect x="337.50" y="486.08" width="5.40" height="5.83" fill="#000"/>
<rect x="352.80" y="489.48" width="5.40" height="5.83" fill="#000"/>
<rect x="392.20" y="363.20" width="139.60" height="129.80" fill="none" stroke="#3a3a3a" stroke-width="1.2"/>
<line x1="389.60" y1="363.20" x2="392.20" y2="363.20" stroke="#3a3a3a" stroke-width="0.9"/>
<text x="376.85" y="367.40" font-size="7.20" font-weight="bold" textLength="13.05" lengthAdjust="spacingAndGlyphs">600</text>
<line x1="389.60" y1="406.47" x2="392.20" y2="406.47" stroke="#3a3a3a" stroke-width="0.9"/>
<text x="376.85" y="410.67" font-size="7.20" font-weight="bold" textLength="13.05" lengthAdjust="spacingAndGlyphs">400</text>
<line x1="389.60" y1="449.73" x2="392.20" y2="449.73" stroke="#3a3a3a" stroke-width="0.9"/>
<text x="376.85" y="453.93" font-size="7.20" font-weight="bold" textLength="13.05" lengthAdjust="spacingAndGlyphs">200</text>
<line x1="389.60" y1="493.00" x2="392.20" y2="493.00" stroke="#3a3a3a" stroke-width="0.9"/>
<text x="385.55" y="497.20" font-size="7.20" font-weight="bold" textLength="4.35" lengthAdjust="spacingAndGlyphs">0</text>
<line x1="427.10" y1="493.00" x2="427.10" y2="495.00" stroke="#3a3a3a" stroke-width="0.9"/>
<line x1="462.00" y1="493.00" x2="462.00" y2="495.00" stroke="#3a3a3a" stroke-width="0.9"/>
<line x1="496.90" y1="493.00" x2="496.90" y2="495.00" stroke="#3a3a3a" stroke-width="0.9"/>
<text x="387.20" y="506.80" font-size="7.20" font-weight="bold" textLength="17.00" lengthAdjust="spacingAndGlyphs">1000</text>
<text x="423.52" y="506.80" font-size="7.20" font-weight="bold" textLength="12.75" lengthAdjust="spacingAndGlyphs">100</text>
<text x="459.85" y="506.80" font-size="7.20" font-weight="bold" textLength="8.50" lengthAdjust="spacingAndGlyphs">10</text>
<text x="496.18" y="506.80" font-size="7.20" font-weight="bold" textLength="4.25" lengthAdjust="spacingAndGlyphs">1</text>
<text x="527.45" y="506.80" font-size="7.20" font-weight="bold" textLength="10.10" lengthAdjust="spacingAndGlyphs">0.1</text>
<text x="412.10" y="521.00" font-size="7.60" font-weight="bold" textLength="98.90" lengthAdjust="spacingAndGlyphs">Pseudopeptide (µg / mL)</text>
<text x="400.40" y="380.00" font-size="12.60" font-weight="bold" textLength="2.40" lengthAdjust="spacingAndGlyphs">I</text>
<text transform="translate(371.90,431.65) rotate(-90)" x="-23.55" y="0" font-size="7.30" font-weight="bold" textLength="47.10" lengthAdjust="spacingAndGlyphs">INF-&#160;&#160;(pg/ml)</text>
<polyline points="399.70,494.00 416.50,494.00 432.70,494.00 449.20,494.00 466.00,494.00 482.60,494.00 499.20,494.00 516.00,494.00 531.50,494.00" fill="none" stroke="#000" stroke-width="1.4" stroke-linejoin="round"/>
<path d="M397.25,491.55 L402.15,496.45 M402.15,491.55 L397.25,496.45 M399.70,491.18 L399.70,496.82" stroke="#000" stroke-width="1.1"/>
<path d="M414.05,491.55 L418.95,496.45 M418.95,491.55 L414.05,496.45 M416.50,491.18 L416.50,496.82" stroke="#000" stroke-width="1.1"/>
<path d="M430.25,491.55 L435.15,496.45 M435.15,491.55 L430.25,496.45 M432.70,491.18 L432.70,496.82" stroke="#000" stroke-width="1.1"/>
<path d="M446.75,491.55 L451.65,496.45 M451.65,491.55 L446.75,496.45 M449.20,491.18 L449.20,496.82" stroke="#000" stroke-width="1.1"/>
<path d="M463.55,491.55 L468.45,496.45 M468.45,491.55 L463.55,496.45 M466.00,491.18 L466.00,496.82" stroke="#000" stroke-width="1.1"/>
<path d="M480.15,491.55 L485.05,496.45 M485.05,491.55 L480.15,496.45 M482.60,491.18 L482.60,496.82" stroke="#000" stroke-width="1.1"/>
<path d="M496.75,491.55 L501.65,496.45 M501.65,491.55 L496.75,496.45 M499.20,491.18 L499.20,496.82" stroke="#000" stroke-width="1.1"/>
<path d="M513.55,491.55 L518.45,496.45 M518.45,491.55 L513.55,496.45 M516.00,491.18 L516.00,496.82" stroke="#000" stroke-width="1.1"/>
<path d="M529.05,491.55 L533.95,496.45 M533.95,491.55 L529.05,496.45 M531.50,491.18 L531.50,496.82" stroke="#000" stroke-width="1.1"/>
<polyline points="399.70,490.70 416.50,489.50 432.70,490.00 449.20,490.00 466.00,490.00 482.60,490.00 499.20,490.00 516.00,490.00 531.50,491.60" fill="none" stroke="#000" stroke-width="1.25" stroke-linejoin="round"/>
<path d="M399.70,487.39 L403.01,490.70 L399.70,494.01 L396.39,490.70 Z" fill="#000"/>
<path d="M416.50,486.19 L419.81,489.50 L416.50,492.81 L413.19,489.50 Z" fill="#000"/>
<path d="M432.70,486.69 L436.01,490.00 L432.70,493.31 L429.39,490.00 Z" fill="#000"/>
<path d="M449.20,486.69 L452.51,490.00 L449.20,493.31 L445.89,490.00 Z" fill="#000"/>
<path d="M466.00,486.69 L469.31,490.00 L466.00,493.31 L462.69,490.00 Z" fill="#000"/>
<path d="M482.60,486.69 L485.91,490.00 L482.60,493.31 L479.29,490.00 Z" fill="#000"/>
<path d="M499.20,486.69 L502.51,490.00 L499.20,493.31 L495.89,490.00 Z" fill="#000"/>
<path d="M516.00,486.69 L519.31,490.00 L516.00,493.31 L512.69,490.00 Z" fill="#000"/>
<path d="M531.50,488.29 L534.81,491.60 L531.50,494.91 L528.19,491.60 Z" fill="#000"/>
<polyline points="399.70,483.80 416.50,486.00 432.70,486.50 449.20,487.00 466.00,487.50 482.60,488.00 499.20,488.00 516.00,488.50 531.50,491.60" fill="none" stroke="#000" stroke-width="1.25" stroke-linejoin="round"/>
<path d="M399.70,480.49 L402.52,486.13 L396.88,486.13 Z" fill="#000"/>
<path d="M416.50,482.69 L419.32,488.33 L413.68,488.33 Z" fill="#000"/>
<path d="M432.70,483.19 L435.52,488.83 L429.88,488.83 Z" fill="#000"/>
<path d="M449.20,483.69 L452.02,489.33 L446.38,489.33 Z" fill="#000"/>
<path d="M466.00,484.19 L468.82,489.83 L463.18,489.83 Z" fill="#000"/>
<path d="M482.60,484.69 L485.42,490.33 L479.78,490.33 Z" fill="#000"/>
<path d="M499.20,484.69 L502.02,490.33 L496.38,490.33 Z" fill="#000"/>
<path d="M516.00,485.19 L518.82,490.83 L513.18,490.83 Z" fill="#000"/>
<path d="M531.50,488.29 L534.32,493.93 L528.68,493.93 Z" fill="#000"/>
<polyline points="399.70,478.00 416.50,481.00 432.70,481.30 449.20,482.50 466.00,481.30 482.60,486.00 499.20,486.40 516.00,487.00 531.50,491.60" fill="none" stroke="#000" stroke-width="1.25" stroke-linejoin="round"/>
<ellipse cx="399.70" cy="478.00" rx="2.45" ry="2.82" fill="#000"/>
<ellipse cx="416.50" cy="481.00" rx="2.45" ry="2.82" fill="#000"/>
<ellipse cx="432.70" cy="481.30" rx="2.45" ry="2.82" fill="#000"/>
<ellipse cx="449.20" cy="482.50" rx="2.45" ry="2.82" fill="#000"/>
<ellipse cx="466.00" cy="481.30" rx="2.45" ry="2.82" fill="#000"/>
<ellipse cx="482.60" cy="486.00" rx="2.45" ry="2.82" fill="#000"/>
<ellipse cx="499.20" cy="486.40" rx="2.45" ry="2.82" fill="#000"/>
<ellipse cx="516.00" cy="487.00" rx="2.45" ry="2.82" fill="#000"/>
<ellipse cx="531.50" cy="491.60" rx="2.45" ry="2.82" fill="#000"/>
<polyline points="399.70,469.90 416.50,471.10 432.70,479.50 449.20,482.00 466.00,482.00 482.60,487.10 499.20,486.40 516.00,486.40 531.50,491.60" fill="none" stroke="#000" stroke-width="1.25" stroke-linejoin="round"/>
<rect x="397.25" y="467.25" width="4.90" height="5.29" fill="#000"/>
<rect x="414.05" y="468.45" width="4.90" height="5.29" fill="#000"/>
<rect x="430.25" y="476.85" width="4.90" height="5.29" fill="#000"/>
<rect x="446.75" y="479.35" width="4.90" height="5.29" fill="#000"/>
<rect x="463.55" y="479.35" width="4.90" height="5.29" fill="#000"/>
<rect x="480.15" y="484.45" width="4.90" height="5.29" fill="#000"/>
<rect x="496.75" y="483.75" width="4.90" height="5.29" fill="#000"/>
<rect x="513.55" y="483.75" width="4.90" height="5.29" fill="#000"/>
<rect x="529.05" y="488.95" width="4.90" height="5.29" fill="#000"/>
<text x="451.50" y="383.80" font-size="9.00" font-weight="bold" textLength="41.50" lengthAdjust="spacingAndGlyphs">Polymer</text>
<line x1="451.50" y1="385.20" x2="493.00" y2="385.20" stroke="#000" stroke-width="0.9"/>
<line x1="423.00" y1="395.00" x2="441.50" y2="395.00" stroke="#000" stroke-width="1.3"/>
<ellipse cx="432.00" cy="395.00" rx="2.90" ry="3.33" fill="#000"/>
<text x="445.00" y="397.50" font-size="8.40" font-weight="bold" textLength="50.50" lengthAdjust="spacingAndGlyphs">pMSP-1 <tspan font-size="5.8" font-weight="normal" stroke-width="0.15" dy="-3.6">38-58</tspan></text>
<line x1="423.00" y1="412.10" x2="441.50" y2="412.10" stroke="#000" stroke-width="1.3"/>
<rect x="429.10" y="408.97" width="5.80" height="6.26" fill="#000"/>
<text x="445.00" y="414.60" font-size="8.40" font-weight="bold" textLength="82.50" lengthAdjust="spacingAndGlyphs">pψ-14183(Y43-S44)</text>
<line x1="423.00" y1="429.20" x2="441.50" y2="429.20" stroke="#000" stroke-width="1.3"/>
<path d="M432.00,425.28 L435.33,431.95 L428.67,431.95 Z" fill="#000"/>
<text x="445.00" y="431.70" font-size="8.40" font-weight="bold" textLength="80.10" lengthAdjust="spacingAndGlyphs">pψ-14187(S44-L45)</text>
<line x1="423.00" y1="446.30" x2="441.50" y2="446.30" stroke="#000" stroke-width="1.3"/>
<path d="M432.00,442.38 L435.92,446.30 L432.00,450.22 L428.08,446.30 Z" fill="#000"/>
<text x="445.00" y="448.80" font-size="8.40" font-weight="bold" textLength="82.50" lengthAdjust="spacingAndGlyphs">pψ-14189(F46-Q47)</text>
<line x1="423.00" y1="463.40" x2="441.50" y2="463.40" stroke="#000" stroke-width="1.3"/>
<path d="M428.50,459.90 L435.50,466.90 M435.50,459.90 L428.50,466.90 M432.00,459.38 L432.00,467.42" stroke="#000" stroke-width="1.1"/>
<text x="445.00" y="465.90" font-size="8.40" font-weight="bold" textLength="81.80" lengthAdjust="spacingAndGlyphs">pψ-14191(V52-L53)</text>
</svg>
</body></html>
